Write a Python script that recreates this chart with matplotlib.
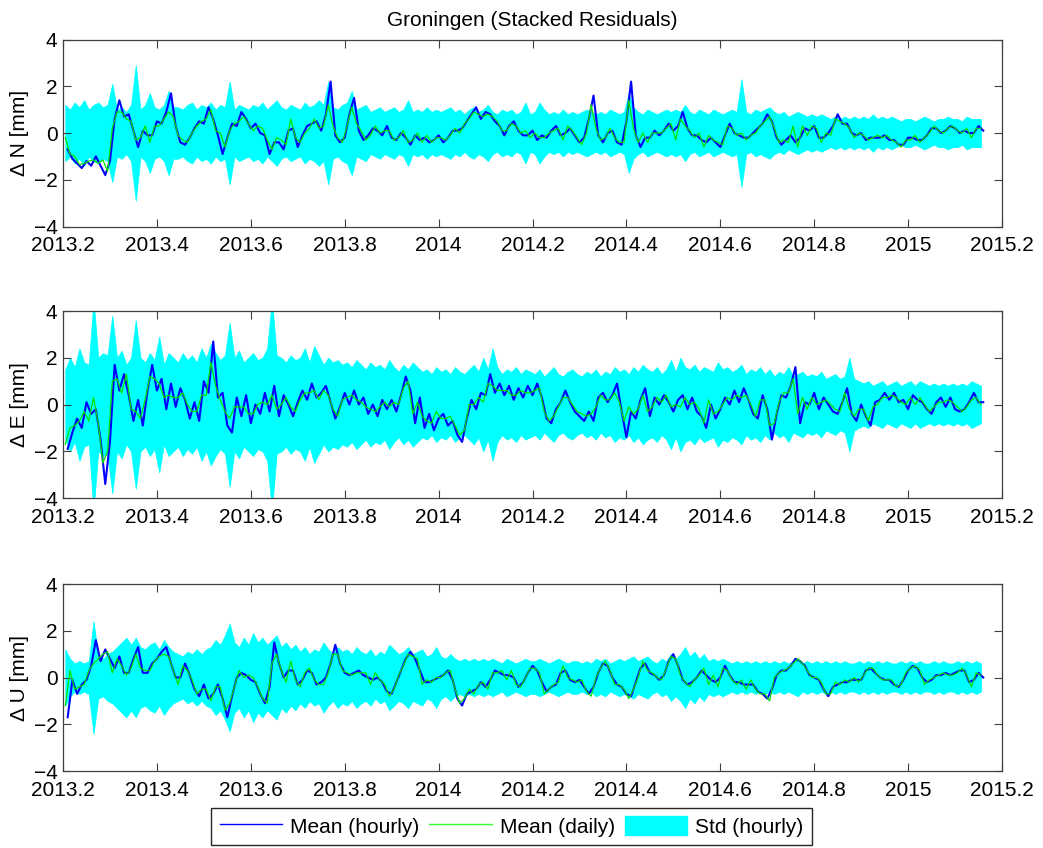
import numpy as np
import matplotlib
matplotlib.use("Agg")
import matplotlib.pyplot as plt
from matplotlib.lines import Line2D
from matplotlib.patches import Patch

plt.rcParams['font.family'] = ['Liberation Sans', 'DejaVu Sans']

# --- time grid: one sample per 0.01 yr, hourly mean sampled half a step later ---
T0 = 2013.205
STEP = 0.01

x_ticks = [2013.2, 2013.4, 2013.6, 2013.8, 2014.0, 2014.2, 2014.4, 2014.6, 2014.8, 2015.0, 2015.2]
x_tick_labels = ["2013.2", "2013.4", "2013.6", "2013.8", "2014", "2014.2", "2014.4",
                 "2014.6", "2014.8", "2015", "2015.2"]
y_ticks = [-4, -2, 0, 2, 4]

# --- North ---
n_daily = [-0.2, -0.9, -1.0, -1.35, -1.3, -1.2, -1.15, -1.3, -1.15, -1.65,
           0.2, 0.9, 0.9, 0.6, 0.5, -0.3, -0.2, 0.3, -0.4, 0.3,
           0.3, 0.6, 0.9, 0.7, -0.1, -0.3, -0.4, 0.0, 0.3, 0.5,
           0.6, 1.0, 0.1, 0.0, -0.6, 0.1, 0.4, 0.5, 0.7, 0.4,
           0.1, 0.3, 0.2, -0.3, -0.7, -0.2, -0.3, -0.5, 0.6, -0.2,
           -0.4, 0.0, 0.2, 0.6, 0.2, 0.3, 1.2, 0.3, -0.2, -0.4,
           0.3, 1.1, 0.4, 0.1, -0.3, -0.1, 0.3, 0.0, 0.1, 0.1,
           -0.3, -0.2, 0.1, -0.4, -0.3, 0.0, -0.4, -0.1, -0.4, -0.2,
           -0.2, -0.3, -0.1, 0.2, 0.0, 0.4, 0.6, 0.9, 0.8, 0.7,
           0.8, 0.7, 0.5, 0.1, 0.1, 0.4, 0.3, 0.0, 0.1, -0.2,
           0.0, -0.2, -0.2, 0.0, 0.1, 0.2, -0.3, 0.3, 0.1, -0.2,
           -0.5, 0.0, 1.2, 0.2, -0.3, -0.2, 0.2, -0.2, -0.4, -0.4,
           1.4, 0.2, -0.4, 0.0, -0.4, 0.0, 0.0, 0.0, 0.2, 0.4,
           -0.3, 0.6, 0.3, 0.1, -0.2, 0.0, -0.6, -0.1, -0.3, -0.4,
           -0.5, 0.3, 0.2, -0.1, 0.0, -0.3, -0.1, 0.0, 0.3, 0.5,
           0.7, 0.2, -0.4, -0.3, -0.4, 0.3, -0.6, 0.3, -0.1, 0.3,
           0.2, -0.4, 0.0, -0.1, 0.6, 0.5, 0.4, 0.2, -0.2, 0.0,
           -0.1, -0.3, -0.2, -0.1, -0.2, -0.1, -0.3, -0.4, -0.6, -0.3,
           -0.3, -0.1, -0.4, -0.2, 0.0, 0.3, 0.1, 0.0, 0.2, 0.3,
           0.1, 0.0, 0.2, -0.2, 0.2, 0.2]
n_hourly = [-0.7, -1.1, -1.3, -1.5, -1.2, -1.4, -1.0, -1.4, -1.8, -1.2,
            0.6, 1.4, 0.7, 0.8, 0.1, -0.6, 0.1, -0.1, -0.1, 0.5,
            0.4, 0.9, 1.7, 0.3, -0.4, -0.5, -0.2, 0.2, 0.5, 0.4,
            1.1, 0.6, -0.1, -0.9, -0.2, 0.4, 0.3, 0.9, 0.6, 0.2,
            0.4, 0.0, -0.1, -0.9, -0.4, -0.4, -0.7, 0.1, 0.2, -0.6,
            -0.1, 0.3, 0.4, 0.5, 0.1, 0.8, 2.2, -0.1, -0.4, -0.2,
            0.8, 1.5, 0.1, -0.3, -0.1, 0.2, 0.1, -0.1, 0.3, -0.2,
            -0.3, 0.0, -0.2, -0.5, -0.1, -0.3, -0.2, -0.4, -0.3, -0.1,
            -0.4, -0.2, 0.1, 0.1, 0.2, 0.5, 0.8, 1.1, 0.6, 0.9,
            0.8, 0.5, 0.3, -0.1, 0.3, 0.5, 0.1, -0.1, -0.1, 0.1,
            -0.3, -0.1, -0.2, 0.1, 0.3, -0.1, 0.0, 0.2, -0.1, -0.4,
            -0.2, 0.6, 1.6, -0.1, -0.4, 0.0, 0.1, -0.4, -0.5, 0.5,
            2.2, -0.1, -0.6, -0.2, -0.2, 0.1, -0.1, 0.1, 0.4, 0.1,
            0.3, 0.9, 0.2, -0.1, -0.1, -0.3, -0.4, -0.2, -0.4, -0.6,
            -0.1, 0.4, 0.0, -0.1, -0.2, -0.2, 0.0, 0.2, 0.4, 0.8,
            0.5, -0.2, -0.5, -0.3, -0.1, -0.4, -0.2, 0.2, 0.1, 0.3,
            -0.2, -0.2, 0.0, 0.3, 0.8, 0.4, 0.4, 0.0, -0.1, 0.0,
            -0.3, -0.2, -0.2, -0.2, -0.1, -0.3, -0.3, -0.5, -0.5, -0.2,
            -0.2, -0.3, -0.3, -0.1, 0.2, 0.2, 0.0, 0.1, 0.3, 0.2,
            0.0, 0.1, 0.0, 0.0, 0.3, 0.1]
n_std = [1.2, 1.0, 1.3, 1.1, 1.4, 1.0, 1.2, 1.3, 1.1, 1.2,
         2.1, 1.0, 1.1, 0.9, 1.2, 2.9, 1.0, 1.2, 1.7, 1.1,
         1.0, 1.2, 1.8, 1.1, 1.1, 1.0, 1.2, 1.3, 1.0, 1.2,
         1.1, 1.3, 1.0, 1.2, 1.1, 2.2, 1.0, 1.2, 1.1, 1.0,
         1.2, 1.1, 1.3, 1.0, 1.2, 1.4, 1.1, 1.0, 1.2, 1.1,
         1.0, 1.3, 1.1, 1.2, 1.4, 1.2, 2.2, 1.1, 1.0, 1.2,
         1.3, 1.8, 1.0, 1.1, 1.2, 0.9, 1.0, 1.1, 0.9, 1.0,
         1.1, 0.9, 1.0, 1.4, 0.9, 1.0, 0.9, 1.1, 0.9, 1.0,
         0.9, 1.0, 1.1, 0.9, 1.0, 0.8, 1.0, 1.1, 0.9, 1.0,
         1.2, 0.9, 0.8, 1.0, 0.9, 1.0, 0.8, 0.9, 1.3, 0.8,
         0.9, 1.3, 1.0, 0.8, 0.9, 0.8, 1.0, 0.8, 0.9, 0.8,
         0.9, 1.0, 0.9, 0.8, 0.9, 0.8, 1.0, 0.9, 0.8, 0.9,
         1.7, 1.1, 0.9, 0.8, 1.0, 0.9, 0.8, 0.9, 1.0, 0.9,
         1.0, 0.9, 1.2, 0.9, 0.8, 1.0, 0.9, 0.8, 1.0, 0.9,
         0.8, 0.9, 1.0, 0.9, 2.3, 0.9, 0.8, 1.0, 0.9, 1.0,
         1.1, 0.9, 0.8, 0.9, 0.7, 0.8, 0.9, 0.8, 0.7, 0.8,
         0.7, 0.8, 0.7, 0.6, 0.7, 0.6, 0.7, 0.6, 0.7, 0.6,
         0.7, 0.6, 0.8, 0.6, 0.7, 0.6, 0.7, 0.6, 0.5, 0.6,
         0.6, 0.5, 0.6, 0.7, 0.6, 0.5, 0.6, 0.6, 0.7, 0.6,
         0.6, 0.5, 0.7, 0.6, 0.6, 0.6]

# --- East ---
e_daily = [-1.7, -1.0, -0.9, -0.7, -0.3, -0.7, 0.3, -0.8, -2.5, -2.0,
           1.0, 1.1, 0.5, 1.3, -0.2, -0.3, -0.6, 0.2, 1.2, 1.1,
           0.9, 0.3, 0.4, 0.3, 0.3, 0.5, 0.0, -0.3, -0.3, 0.4,
           0.4, 1.8, 0.8, 0.2, -0.3, -0.6, -0.1, -0.1, -0.1, -0.4,
           -0.4, 0.0, 0.1, 0.0, 0.4, -0.2, 0.0, 0.3, -0.1, -0.3,
           0.2, 0.5, 0.5, 0.6, 0.2, 0.6, 0.4, -0.2, -0.5, 0.2,
           0.3, 0.4, 0.2, 0.1, -0.1, -0.2, -0.3, -0.1, 0.1, -0.1,
           0.1, 0.0, 0.7, 1.0, -0.4, 0.1, -0.5, -0.7, -0.8, -0.3,
           -0.6, -0.6, -0.5, -0.9, -1.3, -1.1, 0.0, 0.0, 0.3, 0.1,
           0.9, 0.8, 0.6, 0.6, 0.6, 0.4, 0.4, 0.6, 0.5, 0.5,
           0.6, 0.7, -0.3, -0.7, -0.5, -0.1, 0.3, 0.3, 0.0, -0.3,
           -0.4, -0.5, -0.4, -0.1, 0.4, 0.2, 0.2, 0.5, 0.1, -0.7,
           -0.1, -0.4, -0.2, 0.4, -0.3, -0.1, 0.3, 0.1, 0.4, -0.1,
           0.0, -0.1, 0.3, 0.0, 0.1, -0.2, -0.8, 0.2, -0.4, -0.3,
           0.0, 0.3, 0.2, 0.4, 0.3, 0.4, 0.0, -0.5, 0.2, 0.2,
           -0.9, -0.8, 0.1, 0.5, 0.5, 1.1, -0.4, 0.3, -0.2, 0.3,
           0.0, 0.1, 0.2, 0.0, -0.2, -0.3, 0.5, -0.2, -0.5, -0.2,
           -0.2, -0.7, -0.1, 0.0, 0.3, 0.3, 0.4, 0.3, 0.1, 0.0,
           0.3, 0.0, 0.3, 0.0, -0.3, -0.1, 0.1, 0.1, 0.2, 0.1,
           -0.1, -0.3, -0.1, 0.2, 0.3, 0.0]
e_hourly = [-1.9, -1.2, -0.6, -1.0, 0.1, -0.4, -0.2, -1.5, -3.4, -1.6,
            1.7, 0.6, 1.3, 0.4, -0.7, 0.2, -0.9, 0.6, 1.7, 0.6,
            1.1, -0.2, 0.9, -0.1, 0.7, 0.2, -0.6, 0.1, -0.7, 1.0,
            0.5, 2.7, 0.3, 0.5, -0.9, -1.2, 0.3, -0.5, 0.4, -0.8,
            0.0, -0.4, 0.5, -0.3, 0.8, -0.5, 0.4, 0.0, -0.5, 0.1,
            0.6, 0.2, 0.9, 0.3, 0.5, 0.8, 0.1, -0.6, -0.1, 0.5,
            0.0, 0.6, 0.0, 0.3, -0.4, 0.0, -0.5, 0.2, -0.2, 0.2,
            -0.3, 0.4, 1.2, 0.6, -0.8, 0.3, -1.0, -0.4, -1.1, -0.6,
            -0.4, -0.9, -0.7, -1.3, -1.6, -0.6, 0.2, -0.2, 0.5, 0.4,
            1.3, 0.5, 0.9, 0.4, 0.8, 0.2, 0.7, 0.3, 0.8, 0.4,
            0.9, 0.3, -0.6, -0.8, -0.2, 0.1, 0.6, 0.1, -0.3, -0.5,
            -0.7, -0.3, -0.7, 0.3, 0.5, 0.1, 0.4, 0.9, -0.3, -1.4,
            -0.3, -0.6, 0.2, 0.7, -0.5, 0.3, 0.0, 0.4, 0.1, -0.3,
            0.2, 0.4, -0.2, 0.3, -0.3, -0.5, -1.0, 0.0, -0.6, -0.2,
            0.3, 0.0, 0.6, 0.1, 0.7, 0.2, -0.4, -0.6, 0.4, -0.2,
            -1.5, -0.4, 0.4, 0.3, 0.8, 1.6, -0.8, 0.1, 0.0, 0.5,
            -0.2, 0.3, 0.0, -0.3, -0.4, 0.1, 0.7, -0.4, -0.7, 0.0,
            -0.5, -0.9, 0.1, 0.2, 0.5, 0.2, 0.5, 0.1, 0.2, -0.2,
            0.4, 0.2, 0.1, -0.2, -0.4, 0.1, 0.3, -0.1, 0.3, -0.2,
            -0.3, -0.2, 0.1, 0.5, 0.1, 0.1]
e_std = [1.5, 2.0, 1.6, 2.4, 1.8, 1.7, 4.5, 2.0, 2.2, 2.1,
         3.8, 2.0, 2.3, 1.7, 2.0, 3.6, 2.0, 1.8, 2.2, 1.9,
         2.9, 1.7, 2.2, 2.0, 1.8, 2.2, 1.9, 2.1, 1.8, 2.4,
         2.0, 2.6, 2.2, 1.9, 2.1, 3.5, 2.0, 2.3, 1.8, 2.0,
         2.2, 1.9, 2.0, 2.4, 4.5, 2.1, 2.0, 1.8, 2.1, 1.9,
         2.0, 2.4, 1.8, 2.5, 2.1, 1.7, 2.0, 1.8, 1.9, 1.7,
         1.8, 1.6, 1.9, 1.7, 1.5, 1.8, 1.6, 1.7, 1.5, 1.9,
         1.6, 1.4, 1.7, 1.5, 1.8, 1.6, 1.4, 1.5, 1.3, 1.6,
         1.4, 1.5, 1.3, 1.6, 1.4, 1.3, 1.5, 1.7, 1.4, 2.0,
         1.5, 2.4, 1.6, 1.3, 1.5, 1.4, 1.6, 1.3, 1.5, 1.4,
         1.3, 1.5, 1.2, 1.4, 1.6, 1.3, 1.2, 1.4, 1.5, 1.3,
         1.2, 1.4, 1.3, 1.5, 1.2, 1.4, 1.3, 1.6, 1.4, 1.5,
         1.3, 1.6, 1.4, 1.7, 1.5, 1.4, 1.6, 1.3, 1.5, 1.9,
         1.4, 2.0, 1.6, 1.5, 1.7, 1.4, 1.6, 1.5, 1.4, 1.8,
         1.5, 1.6, 1.4, 1.5, 1.7, 1.3, 1.5, 1.4, 1.6, 1.3,
         1.5, 1.2, 1.4, 1.3, 1.6, 1.2, 1.3, 1.4, 1.2, 1.3,
         1.2, 1.4, 1.1, 1.2, 1.3, 1.1, 1.2, 2.0, 1.1, 1.0,
         0.9, 1.0, 0.8, 0.9, 1.0, 0.8, 0.9, 1.0, 0.8, 0.9,
         1.0, 0.8, 1.0, 0.9, 0.8, 0.9, 0.8, 0.9, 0.8, 0.9,
         0.8, 0.9, 0.8, 1.0, 0.9, 0.8]

# --- Up ---
u_daily = [-1.2, 0.3, -0.5, -0.4, -0.3, 0.3, 0.6, 0.8, 1.0, 1.1,
           0.2, 0.8, 0.5, 0.1, 0.4, 1.0, 0.4, 0.3, 0.3, 0.7,
           0.9, 1.0, 0.9, 0.3, -0.3, 0.5, 0.3, -0.1, -0.7, -0.5,
           -0.5, -1.0, -0.4, -0.4, -1.4, -1.1, -0.4, 0.3, 0.0, 0.1,
           0.0, -0.4, -0.9, -1.1, 0.6, 1.0, 0.3, -0.2, 0.7, -0.1,
           -0.4, 0.2, 0.4, -0.1, -0.3, -0.3, 0.2, 1.0, 1.0, 0.3,
           0.2, 0.1, 0.2, 0.2, 0.2, -0.3, 0.2, -0.1, -0.3, -0.8,
           -0.5, 0.1, 0.5, 1.0, 0.9, 0.8, -0.3, -0.1, -0.2, 0.0,
           0.0, 0.2, 0.3, -0.5, -1.1, -0.9, -0.5, -0.7, -0.3, -0.2,
           -0.5, 0.2, 0.2, 0.3, -0.1, 0.3, -0.3, -0.4, 0.0, 0.4,
           0.4, 0.2, -0.7, -0.5, -0.3, -0.2, 0.5, 0.0, -0.1, -0.2,
           -0.1, -0.6, -0.8, 0.0, 0.4, 0.7, 0.3, -0.3, -0.3, -0.5,
           -0.9, -0.5, 0.0, 0.7, 0.3, 0.2, 0.0, -0.1, 0.4, 0.9,
           0.8, 0.1, -0.2, -0.4, -0.1, 0.1, 0.4, -0.3, 0.1, -0.4,
           0.4, 0.3, -0.1, -0.3, -0.1, -0.5, -0.1, -0.5, -0.7, -0.7,
           -1.0, 0.0, 0.2, 0.3, 0.4, 0.6, 0.8, 0.6, 0.3, 0.0,
           0.0, -0.2, -0.7, -0.7, -0.2, -0.3, -0.1, -0.2, 0.0, -0.2,
           0.1, 0.4, 0.4, 0.1, -0.1, -0.1, -0.1, -0.4, -0.3, 0.2,
           0.4, 0.5, 0.3, -0.3, -0.1, 0.0, 0.1, 0.2, 0.1, 0.1,
           0.2, 0.4, 0.1, -0.4, 0.2, 0.1]
u_hourly = [-1.7, -0.1, -0.7, -0.3, -0.1, 0.5, 1.6, 0.7, 1.2, 0.8,
            0.4, 0.9, 0.2, 0.2, 0.8, 1.3, 0.2, 0.2, 0.6, 0.8,
            1.1, 1.3, 0.6, 0.0, 0.0, 0.6, 0.1, -0.5, -0.8, -0.3,
            -0.9, -0.7, -0.3, -0.9, -1.7, -0.8, 0.0, 0.2, 0.1, -0.1,
            -0.2, -0.7, -1.1, -0.4, 1.5, 0.6, 0.0, 0.3, 0.3, -0.3,
            -0.1, 0.3, 0.2, -0.3, -0.2, 0.0, 0.6, 1.4, 0.6, 0.2,
            0.1, 0.2, 0.3, 0.1, 0.0, -0.1, 0.0, -0.2, -0.6, -0.7,
            -0.2, 0.3, 0.8, 1.1, 0.8, 0.3, -0.2, -0.2, -0.1, 0.0,
            0.1, 0.3, -0.1, -0.9, -1.2, -0.7, -0.6, -0.5, -0.2, -0.4,
            -0.1, 0.3, 0.2, 0.1, 0.1, 0.0, -0.4, -0.2, 0.2, 0.5,
            0.3, -0.2, -0.6, -0.4, -0.3, 0.2, 0.3, -0.1, -0.2, -0.1,
            -0.4, -0.7, -0.4, 0.2, 0.6, 0.5, 0.0, -0.3, -0.4, -0.7,
            -0.8, -0.2, 0.4, 0.6, 0.2, 0.1, -0.1, 0.1, 0.7, 1.0,
            0.5, -0.1, -0.3, -0.2, 0.0, 0.3, 0.1, -0.1, -0.2, 0.0,
            0.5, 0.1, -0.2, -0.2, -0.3, -0.3, -0.3, -0.6, -0.7, -0.9,
            -0.5, 0.1, 0.3, 0.3, 0.5, 0.8, 0.7, 0.5, 0.1, 0.0,
            -0.1, -0.5, -0.8, -0.4, -0.3, -0.2, -0.2, -0.1, -0.1, -0.1,
            0.3, 0.4, 0.2, 0.0, -0.1, -0.1, -0.3, -0.4, -0.1, 0.3,
            0.5, 0.4, 0.0, -0.2, -0.1, 0.1, 0.1, 0.2, 0.1, 0.2,
            0.3, 0.3, -0.2, -0.1, 0.2, 0.0]
u_std = [1.2, 0.8, 0.6, 0.7, 0.6, 0.7, 2.4, 0.9, 0.8, 1.0,
         1.1, 1.3, 1.5, 1.7, 1.4, 1.7, 1.3, 1.2, 1.4, 1.5,
         1.2, 1.6, 1.3, 1.1, 1.0, 0.9, 1.1, 1.0, 1.2, 1.0,
         1.2, 1.3, 1.6, 1.4, 1.8, 2.3, 1.5, 1.3, 1.7, 1.4,
         1.9, 1.5, 1.7, 1.4, 1.6, 1.8, 1.3, 1.5, 1.2, 1.4,
         1.1, 1.3, 1.0, 1.2, 1.1, 1.5, 1.2, 1.0, 1.3, 1.1,
         1.2, 1.0, 1.3, 1.1, 1.0, 1.2, 0.9, 1.1, 1.0, 1.4,
         1.2, 1.0, 1.1, 1.3, 1.0, 1.1, 1.2, 0.9, 1.0, 1.3,
         0.9, 0.8, 1.0, 0.8, 0.7, 0.8, 0.7, 0.8, 0.7, 0.8,
         0.7, 0.8, 0.7, 0.6, 0.8, 0.7, 0.6, 0.7, 0.8, 0.7,
         0.7, 0.8, 0.7, 0.6, 0.7, 0.8, 0.7, 0.6, 0.7, 0.7,
         0.6, 0.7, 0.6, 0.8, 0.7, 0.8, 0.6, 0.7, 0.8, 0.7,
         0.8, 0.9, 0.7, 0.8, 0.9, 0.7, 0.6, 0.8, 0.7, 1.0,
         0.8, 1.0, 1.3, 0.9, 1.1, 0.8, 1.0, 0.7, 0.8, 0.7,
         0.8, 0.7, 0.6, 0.7, 0.6, 0.7, 0.6, 0.7, 0.6, 0.7,
         0.6, 0.7, 0.6, 0.7, 0.6, 0.7, 0.8, 0.6, 0.7, 0.6,
         0.7, 0.6, 0.7, 0.6, 0.7, 0.6, 0.7, 0.6, 0.6, 0.7,
         0.6, 0.7, 0.6, 0.7, 0.6, 0.7, 0.6, 0.6, 0.7, 0.6,
         0.7, 0.6, 0.7, 0.6, 0.6, 0.7, 0.6, 0.7, 0.6, 0.6,
         0.7, 0.6, 0.7, 0.6, 0.7, 0.6]

components = [
    ("\u0394 N [mm]", n_hourly, n_daily, n_std),
    ("\u0394 E [mm]", e_hourly, e_daily, e_std),
    ("\u0394 U [mm]", u_hourly, u_daily, u_std),
]

BLUE = "#0000ff"
GREEN = "#00e000"
CYAN = "#00ffff"
SPINE = "#404040"
FS = 15

fig = plt.figure(figsize=(10.43, 8.48), dpi=100)
left, width, height = 0.0604, 0.9003, 0.2205
bottoms = [0.7329, 0.4127, 0.0908]

for k, (ylabel, hourly, daily, std) in enumerate(components):
    ax = fig.add_axes([left, bottoms[k], width, height])
    t = T0 + STEP * np.arange(len(daily))
    t_h = t + STEP / 2
    s = np.array(std)
    ax.fill_between(t, -s, s, color=CYAN, linewidth=0.6, edgecolor=CYAN, zorder=1)
    ax.plot(t_h, hourly, color=BLUE, linewidth=1.5, zorder=2)
    ax.plot(t, daily, color=GREEN, linewidth=0.9, zorder=3)

    ax.set_xlim(2013.2, 2015.2)
    ax.set_ylim(-4, 4)
    ax.set_xticks(x_ticks)
    ax.set_xticklabels(x_tick_labels)
    ax.set_yticks(y_ticks)
    ax.tick_params(direction="in", top=True, right=True, length=6, width=0.8,
                   colors=SPINE, labelcolor="black", labelsize=FS)
    ax.tick_params(axis="x", pad=7)
    ax.tick_params(axis="y", pad=4)
    for sp in ax.spines.values():
        sp.set_color(SPINE)
        sp.set_linewidth(0.9)
    ax.set_ylabel(ylabel, fontsize=FS, labelpad=3)
    if k == 0:
        ax.set_title("Groningen (Stacked Residuals)", fontsize=FS, pad=10)

handles = [Line2D([], [], color=BLUE, linewidth=1.0),
           Line2D([], [], color="#33ff33", linewidth=1.0),
           Patch(facecolor=CYAN, edgecolor=CYAN)]
fig.legend(handles, ["Mean (hourly)", "Mean (daily)", "Std (hourly)"],
           loc="center", bbox_to_anchor=(0.4904, 0.0254), ncol=3, fontsize=FS,
           frameon=True, fancybox=False, edgecolor="#262626", framealpha=1,
           handlelength=3.0, handleheight=1.05, handletextpad=0.38, columnspacing=0.48,
           borderpad=0.4, borderaxespad=0)

fig.savefig("out.png", dpi=100)
